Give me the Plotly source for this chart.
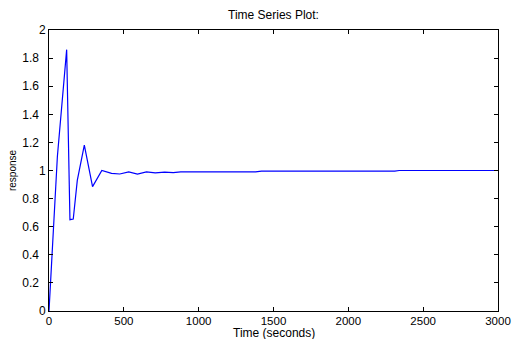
import plotly.graph_objects as go

time_s = [0, 56, 118, 140, 162, 189, 236, 291, 353, 418, 473, 533, 591, 651, 710, 773, 830, 880,
          1380, 1420, 2310, 2340, 3000]
response = [0, 1.1, 1.86, 0.65, 0.655, 0.93, 1.18, 0.885, 1.0, 0.98, 0.975, 0.99, 0.975, 0.99,
            0.983, 0.988, 0.985, 0.99, 0.99, 0.995, 0.995, 1.0, 1.0]

x_ticks = [0, 500, 1000, 1500, 2000, 2500, 3000]
x_labels = ["0", "500", "1000", "1500", "2000", "2500", "3000"]
y_ticks = [0, 0.2, 0.4, 0.6, 0.8, 1, 1.2, 1.4, 1.6, 1.8, 2]
y_labels = ["0", "0.2", "0.4", "0.6", "0.8", "1", "1.2", "1.4", "1.6", "1.8", "2"]

fam = "Liberation Sans, Arial, sans-serif"
font = dict(family=fam, size=12, color="black")

# decimal labels sit a little further from the axis in the reference
y_text = [lab + "\u00a0\u00a0" if "." in lab else lab for lab in y_labels]

fig = go.Figure(go.Scatter(x=time_s, y=response, mode="lines",
                           line=dict(color="rgb(0,0,255)", width=1.2)))

axis_common = dict(showline=True, linecolor="black", linewidth=1, mirror="ticks",
                   ticks="inside", ticklen=4, tickcolor="black", showgrid=False,
                   zeroline=False, automargin=False)

fig.update_layout(
    width=512, height=339,
    margin=dict(l=49, r=14, t=30, b=28),
    paper_bgcolor="white", plot_bgcolor="white",
    showlegend=False,
    font=font,
    title=dict(text="Time Series Plot:", x=0.5, xanchor="center", xref="paper",
               y=1, yref="container", yanchor="top", pad=dict(t=11),
               font=dict(family=fam, size=12, color="black")),
    xaxis=dict(range=[0, 3000], tickvals=x_ticks, ticktext=x_labels,
               tickfont=dict(family=fam, size=11.5, color="black"),
               ticklabelstandoff=-1, **axis_common),
    yaxis=dict(range=[0, 2], tickvals=y_ticks, ticktext=y_text, tickfont=font,
               title=dict(text="response", standoff=3,
                          font=dict(family=fam, size=10, color="black")), **axis_common),
    annotations=[dict(text="Time (seconds)", xref="paper", yref="paper", x=0.5, y=0,
                      xanchor="center", yanchor="top", yshift=-14, borderpad=0,
                      showarrow=False, font=font)],
)

fig.write_html("out.html")
